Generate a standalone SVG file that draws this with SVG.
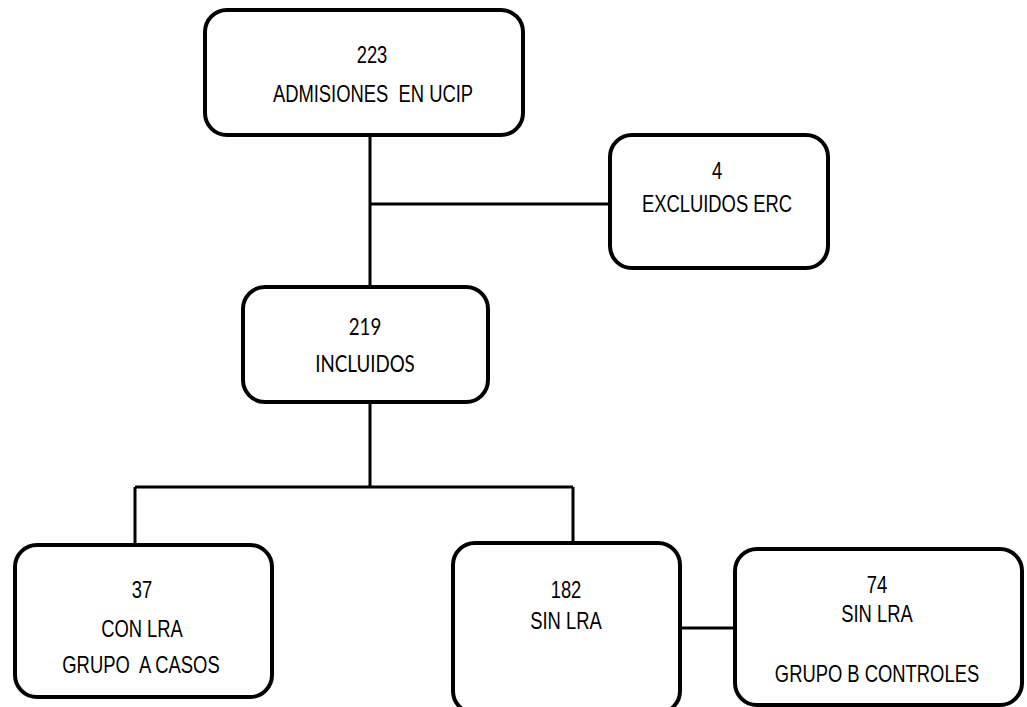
<svg xmlns="http://www.w3.org/2000/svg" width="1027" height="707" viewBox="0 0 1027 707">
<style>
.box{fill:#fff;stroke:#000;stroke-width:4}
.t{font-family:"Liberation Sans",Arial,sans-serif;font-size:23px;fill:#000;text-anchor:middle;white-space:pre}
.c{font-family:Lato,"Open Sans",sans-serif;font-size:24px;fill:#000;text-anchor:middle}
.ln{stroke:#000;stroke-width:3;fill:none}
</style>
<rect width="1027" height="707" fill="#fff"/>
<g id="connectors">
<path class="ln" d="M370 135V287M370 204H610M370 402V487M135 487H573M135 487V545M573 487V543M680 628H735"/>
</g>
<g id="n223"><rect class="box" x="205" y="10" width="318" height="125" rx="22"/>
<text class="t" transform="translate(372,63) scale(0.8,1)">223</text>
<text class="t" transform="translate(373,102) scale(0.8,1)">ADMISIONES  EN UCIP</text></g>
<g id="n4"><rect class="box" x="610" y="135" width="218" height="133" rx="22"/>
<text class="t" transform="translate(717,179) scale(0.8,1)">4</text>
<text class="t" transform="translate(717,212) scale(0.8,1)">EXCLUIDOS ERC</text></g>
<g id="n219"><rect class="box" x="243" y="287" width="245" height="115" rx="22"/>
<text class="c" transform="translate(365,335) scale(0.78,1)">219</text>
<text class="c" transform="translate(365,372) scale(0.78,1)">INCLUIDOS</text></g>
<g id="n37"><rect class="box" x="15" y="545" width="257" height="152" rx="22"/>
<text class="t" transform="translate(142,598) scale(0.8,1)">37</text>
<text class="t" transform="translate(142,637) scale(0.8,1)">CON LRA</text>
<text class="t" transform="translate(141,673) scale(0.8,1)">GRUPO  A CASOS</text></g>
<g id="n182"><rect class="box" x="453" y="543" width="227" height="170" rx="22"/>
<text class="t" transform="translate(566,598) scale(0.8,1)">182</text>
<text class="t" transform="translate(566,629) scale(0.8,1)">SIN LRA</text></g>
<g id="n74"><rect class="box" x="735" y="549" width="287" height="156" rx="22"/>
<text class="t" transform="translate(877,593) scale(0.8,1)">74</text>
<text class="t" transform="translate(877,622) scale(0.8,1)">SIN LRA</text>
<text class="t" transform="translate(877,682) scale(0.8,1)">GRUPO B CONTROLES</text></g>
</svg>
